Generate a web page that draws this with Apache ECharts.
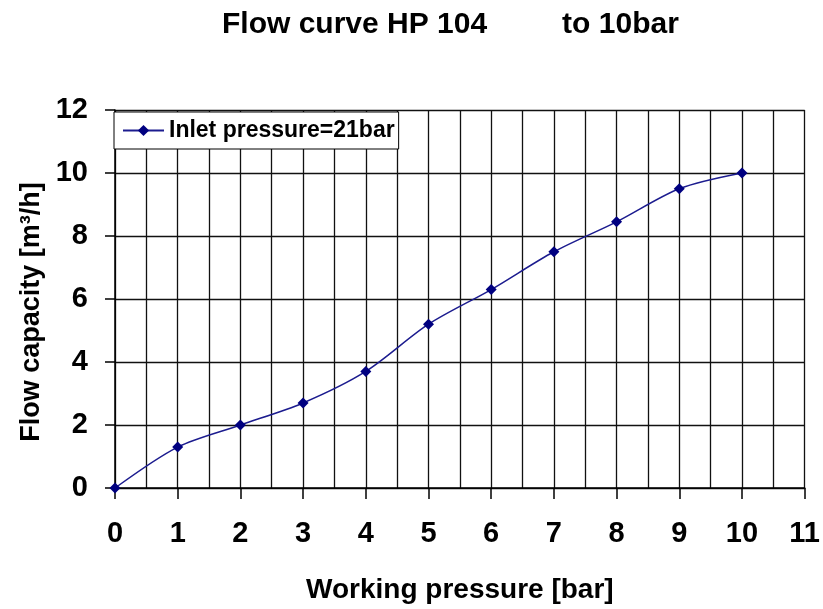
<!DOCTYPE html>
<html>
<head>
<meta charset="utf-8">
<script src="https://cdn.jsdelivr.net/npm/echarts@6/dist/echarts.min.js"></script>
<style>
html,body{margin:0;padding:0;background:#fff;}
#chart{width:823px;height:609px;}
</style>
</head>
<body>
<div id="chart"></div>
<script>
const pressures = [0, 1, 2, 3, 4, 5, 6, 7, 8, 9, 10];
const flowCapacity = [0, 1.3, 2.0, 2.7, 3.7, 5.2, 6.3, 7.5, 8.45, 9.5, 10.0];
const seriesName = 'Inlet pressure=21bar';
const titleText = 'Flow curve HP 104         to 10bar';
const xAxisName = 'Working pressure [bar]';
const yAxisName = 'Flow capacity [m³/h]';

const FONT = '"Liberation Sans", Arial, sans-serif';
const chart = echarts.init(document.getElementById('chart'));
chart.setOption({
  backgroundColor: '#fff',
  animation: false,
  title: {
    text: titleText,
    left: 222,
    top: 10,
    padding: 0,
    textStyle: {fontFamily: FONT, fontSize: 30, fontWeight: 'bold', color: '#000'}
  },
  legend: {
    left: 114,
    top: 112,
    orient: 'horizontal',
    padding: [7, 4, 7, 8],
    itemWidth: 41,
    itemHeight: 14,
    backgroundColor: '#fff',
    borderColor: '#000',
    borderWidth: 1,
    borderRadius: 0,
    textStyle: {fontFamily: FONT, fontSize: 23, fontWeight: 'bold', color: '#000'},
    data: [seriesName]
  },
  grid: {left: 115, right: 14, top: 110, bottom: 118, containLabel: false},
  xAxis: {
    type: 'value',
    min: 0, max: 11, interval: 1,
    name: xAxisName,
    nameLocation: 'middle',
    nameGap: 88,
    nameTextStyle: {fontFamily: FONT, fontSize: 28, fontWeight: 'bold', color: '#000'},
    axisLine: {show: true, lineStyle: {color: '#000', width: 1.5}},
    axisTick: {show: true, length: 11, lineStyle: {color: '#000', width: 1.5}},
    axisLabel: {margin: 31, fontFamily: FONT, fontSize: 29, fontWeight: 'bold', color: '#000'},
    splitLine: {show: true, lineStyle: {color: '#111', width: 1.3}},
    minorTick: {show: false, splitNumber: 2},
    minorSplitLine: {show: true, lineStyle: {color: '#111', width: 1.3}}
  },
  yAxis: {
    type: 'value',
    min: 0, max: 12, interval: 2,
    name: yAxisName,
    nameLocation: 'middle',
    nameRotate: 90,
    nameGap: 70,
    nameTextStyle: {fontFamily: FONT, fontSize: 27, fontWeight: 'bold', color: '#000', padding: [0, 26, 0, 0]},
    axisLine: {show: true, lineStyle: {color: '#000', width: 1.5}},
    axisTick: {show: true, length: 10, lineStyle: {color: '#000', width: 1.5}},
    axisLabel: {margin: 27, fontFamily: FONT, fontSize: 29, fontWeight: 'bold', color: '#000'},
    splitLine: {show: true, lineStyle: {color: '#111', width: 1.3}}
  },
  series: [{
    name: seriesName,
    type: 'line',
    smooth: 0.3,
    data: pressures.map((p, i) => [p, flowCapacity[i]]),
    symbol: 'diamond',
    symbolSize: 11,
    itemStyle: {color: '#000080'},
    lineStyle: {color: '#1c1c8f', width: 1.5}
  }]
});
</script>
</body>
</html>
